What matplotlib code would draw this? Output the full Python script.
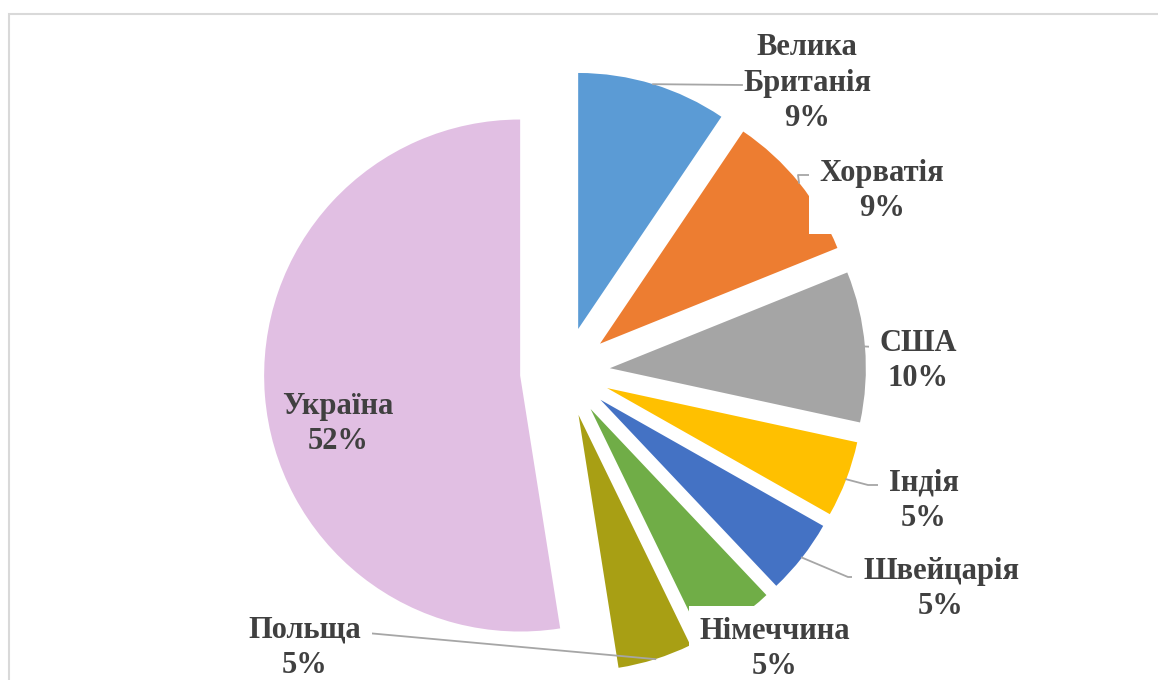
import matplotlib.pyplot as plt
from matplotlib.patches import Rectangle
import numpy as np

# data, clockwise from 12 o'clock (shares)
countries = ["Велика\nБританія", "Хорватія", "США", "Індія",
             "Швейцарія", "Німеччина", "Польща", "Україна"]
shares = [9.45, 9.45, 9.5, 4.8, 4.75, 4.85, 4.7, 52.5]
pct_labels = ["9%", "9%", "10%", "5%", "5%", "5%", "5%", "52%"]
colors = ["#5B9BD5", "#ED7D31", "#A5A5A5", "#FFC000",
          "#4472C4", "#70AD47", "#A89F14", "#E1BFE3"]

W, H = 1158, 680
TEXT = "#404040"
LINE = "#A6A6A6"

# label centres in screen pixels (x, y from top), leader bends after the arc point
label_pos = [(807, 83), (882, 191), (918, 361), (924, 501),
             (941, 589), (775, 649), (305, 648), (338, 424)]
leader_pts = [[(742, 85)],
              [(798, 175), (810, 175)],
              [(876, 347)],
              [(868, 485), (881, 485)],
              [(848, 577), (858, 577)],
              None,
              [(367, 633)],
              None]
boxed = [False, True, True, True, True, True, True, False]


def sy(y):
    return H - y


plt.rcParams["font.family"] = ["Liberation Serif", "DejaVu Serif"]

fig = plt.figure(figsize=(W / 100, H / 100), dpi=100)
ax = fig.add_axes([0, 0, 1, 1])

radius = 256
# matplotlib's explode offset is in data units here, not a fraction of radius
wedges, _ = ax.pie(shares, colors=colors, startangle=90, counterclock=False,
                   radius=radius, center=(565, sy(372)),
                   explode=[45] * len(shares),
                   wedgeprops=dict(linewidth=0))
ax.set_xlim(0, W)
ax.set_ylim(0, H)
ax.set_aspect("equal")
ax.axis("off")

# chart area border
ax.add_patch(Rectangle((9, sy(14) - 800), 1300, 800, fill=False,
                       edgecolor="#D9D9D9", linewidth=1.5, zorder=1))

for i, w in enumerate(wedges):
    w.set_zorder(2)
    pts = leader_pts[i]
    if pts:
        mid = np.deg2rad((w.theta1 + w.theta2) / 2)
        x0 = w.center[0] + w.r * np.cos(mid)
        y0 = w.center[1] + w.r * np.sin(mid)
        xs = [x0] + [p[0] for p in pts]
        ys = [y0] + [sy(p[1]) for p in pts]
        ax.plot(xs, ys, color=LINE, linewidth=1.3, zorder=3)
    lx, ly = label_pos[i]
    bbox = dict(boxstyle="square,pad=0.35", facecolor="white",
                edgecolor="none") if boxed[i] else None
    ax.text(lx, sy(ly), f"{countries[i]}\n{pct_labels[i]}", ha="center",
            va="center", fontsize=22, fontweight="bold", color=TEXT,
            linespacing=1.3, bbox=bbox, zorder=4)

fig.savefig("out.png", dpi=100)
